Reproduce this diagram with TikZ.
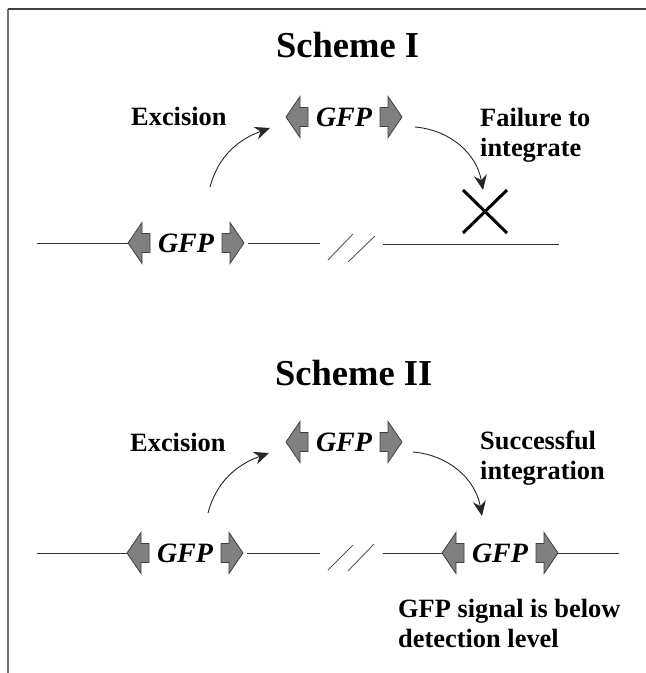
\documentclass[tikz,border=0pt]{standalone}
\usepackage{fontspec}
\setmainfont{Liberation Serif}
\usetikzlibrary{arrows.meta}

% one GFP cassette: text node plus the two flanking block arrows
\newcommand\gfpunit[2]{%
    \node[gfptext] (#1) at (#2) {GFP};
    \coordinate (#1-l) at ([xshift=-58pt]#1.center);
    \coordinate (#1-r) at ([xshift=58pt]#1.center);
    \draw[gfparrow] (#1-l) -- ++(14,-20.5) -- ++(0,11) -- ++(8,0) -- ++(0,19) -- ++(-8,0) -- ++(0,11) -- cycle;
    \draw[gfparrow] (#1-r) -- ++(-14,-20.5) -- ++(0,11) -- ++(-8,0) -- ++(0,19) -- ++(8,0) -- ++(0,11) -- cycle;
}

\begin{document}
\begin{tikzpicture}[x=1pt, y=-1pt,
    title/.style={font=\fontsize{36.5}{40}\selectfont\bfseries, inner sep=0pt, anchor=base west},
    label/.style={font=\fontsize{26.4}{30}\selectfont\bfseries, inner sep=0pt, align=left},
    gfptext/.style={font=\fontsize{28}{30}\selectfont\bfseries\itshape, inner sep=0pt},
    gfparrow/.style={fill=black!50, draw=black!75, line width=0.8pt, line join=miter},
    dna/.style={draw=black!80, line width=1pt},
    gap/.style={draw=black!65, line width=0.9pt},
    jump/.style={draw=black!85, line width=0.9pt, -{Stealth[length=15pt, width=13pt, inset=5pt]}}]
    \useasboundingbox (0,0) rectangle (646,673);
    % frame
    \draw[black!55, line width=1.5pt] (8,680) -- (8,9);
    \draw[black!75, line width=1.5pt] (8,9) -- (660,9);

    % Scheme I
    \begin{scope}
        \node[title] (titleI) at (276,57) {Scheme I};
        \node[label, anchor=base west] (excI) at (131,125) {Excision};
        \gfpunit{gfpItop}{344,117}
        \gfpunit{gfpIbot}{186,243}
        \coordinate (dnaI0) at (37,243);
        \coordinate (dnaI1) at (320,243);
        \coordinate (dnaI2) at (383,244);
        \coordinate (dnaI3) at (559,244);
        \draw[dna] (dnaI0) -- (gfpIbot-l);
        \draw[dna] ([xshift=4pt]gfpIbot-r) -- (dnaI1);
        \draw[dna] (dnaI2) -- (dnaI3);
        \draw[gap] (328,260) -- (353,234);
        \draw[gap] (348,262) -- (375,236);
        % excised cassette
        \coordinate (exI0) at (210,187);
        \coordinate (exI1) at (270,128);
        \draw[jump] (exI0) to[out=75, in=200] (exI1);
        \coordinate (inI0) at (415,127);
        \coordinate (inI1) at (483,190);
        \draw[jump] (inI0) to[out=-5, in=100] (inI1);
        \node[label, anchor=north west] (failI) at (480,108) {Failure to\\integrate};
        \draw[line width=3pt] (463,190) -- (507,233);
        \draw[line width=3pt] (463,233) -- (507,190);
    \end{scope}

    % Scheme II
    \begin{scope}
        \node[title] (titleII) at (275,385) {Scheme II};
        \node[label, anchor=base west] (excII) at (130,451) {Excision};
        \gfpunit{gfpIItop}{344,442}
        \gfpunit{gfpIIbot}{185,553}
        \gfpunit{gfpIIins}{500,553}
        \coordinate (dnaII0) at (37,553);
        \coordinate (dnaII1) at (320,553);
        \coordinate (dnaII2) at (383,553);
        \coordinate (dnaII3) at (619,553);
        \draw[dna] (dnaII0) -- (gfpIIbot-l);
        \draw[dna] ([xshift=4pt]gfpIIbot-r) -- (dnaII1);
        \draw[dna] (dnaII2) -- (gfpIIins-l);
        \draw[dna] (gfpIIins-r) -- (dnaII3);
        \draw[gap] (328,570) -- (353,545);
        \draw[gap] (348,571) -- (374,544);
        % excised cassette
        \coordinate (exII0) at (208,513);
        \coordinate (exII1) at (269,453);
        \draw[jump] (exII0) to[out=75, in=200] (exII1);
        \coordinate (inII0) at (413,452);
        \coordinate (inII1) at (482,516);
        \draw[jump] (inII0) to[out=-5, in=100] (inII1);
        \node[label, anchor=north west] (succII) at (480,431) {Successful\\integration};
        \node[label, anchor=north west] (sigII) at (398,599) {GFP signal is below\\detection level};
    \end{scope}
\end{tikzpicture}
\end{document}
